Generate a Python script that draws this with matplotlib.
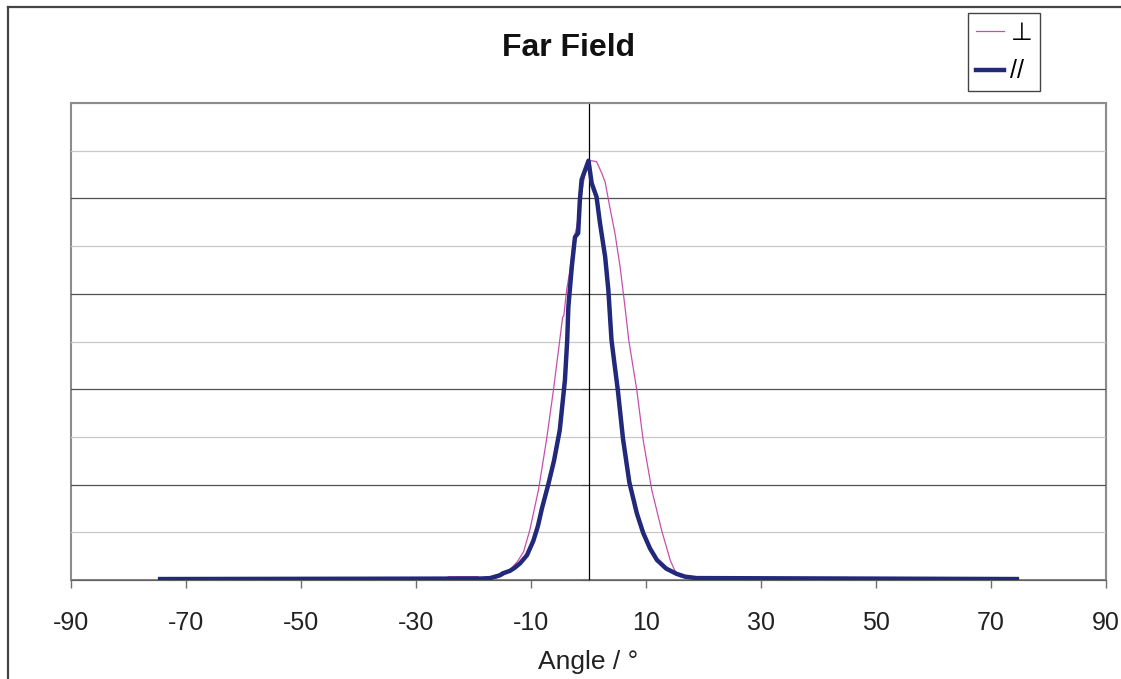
import matplotlib
matplotlib.use("Agg")
import matplotlib.pyplot as plt
from matplotlib.lines import Line2D

plt.rcParams["font.family"] = ["Liberation Sans", "DejaVu Sans"]
plt.rcParams["axes.unicode_minus"] = False

# far field intensity, perpendicular polarisation (thin magenta)
perp_angle = [-74.5, -30, -24.6, -24.4, -19.2, -19.0, -16.0, -14.8, -13.7, -12.4,
              -11.3, -10.2, -8.7, -7.3, -6.1, -5.0, -4.5, -4.3, -3.8, -3.3,
              -2.6, -2.05, -1.5, -0.9, -0.3, 0.5, 1.4, 2.3, 2.9, 3.7,
              4.6, 5.5, 6.35, 7.0, 8.4, 9.5, 11.0, 12.7, 14.2, 15.0,
              15.9, 17.6, 21.0, 21.1, 26.0, 26.2, 36.5, 37, 42, 42.5,
              74.5]
perp_value = [0.002, 0.002, 0.002, 0.007, 0.007, 0.003, 0.004, 0.010, 0.021, 0.038,
              0.059, 0.105, 0.189, 0.294, 0.398, 0.503, 0.551, 0.553, 0.608, 0.644,
              0.713, 0.740, 0.782, 0.832, 0.874, 0.879, 0.877, 0.853, 0.834, 0.782,
              0.727, 0.656, 0.572, 0.503, 0.398, 0.294, 0.189, 0.105, 0.042, 0.020,
              0.007, 0.003, 0.003, 0.007, 0.007, 0.003, 0.003, 0.004, 0.004, 0.003,
              0.002]

# parallel polarisation (thick navy)
par_angle = [-74.5, -18.9, -17.1, -15.4, -14.9, -13.7, -12.9, -11.9, -10.7, -9.6,
             -8.8, -8.1, -7.0, -6.0, -5.0, -4.1, -3.7, -3.5, -2.9, -2.35,
             -1.8, -1.5, -1.2, 0.0, 0.55, 1.4, 2.0, 2.9, 3.45, 4.0,
             4.55, 5.1, 6.0, 7.1, 8.4, 9.5, 10.7, 11.9, 13.5, 15.3,
             16.8, 18.8, 74.5]
par_value = [0.002, 0.003, 0.004, 0.010, 0.014, 0.019, 0.025, 0.035, 0.052, 0.082,
             0.113, 0.150, 0.200, 0.250, 0.314, 0.419, 0.503, 0.573, 0.657, 0.719,
             0.727, 0.797, 0.839, 0.879, 0.832, 0.803, 0.748, 0.677, 0.608, 0.503,
             0.450, 0.398, 0.296, 0.205, 0.140, 0.099, 0.066, 0.042, 0.024, 0.013,
             0.007, 0.004, 0.002]

x_ticks = list(range(-90, 91, 20))
y_major = [0.0, 0.2, 0.4, 0.6, 0.8]
y_minor = [0.1, 0.3, 0.5, 0.7, 0.9]

W, H = 1121, 679
fig = plt.figure(figsize=(W / 100, H / 100), dpi=100)
ax = fig.add_axes([71 / W, 1 - 580 / H, (1106 - 71) / W, (580 - 103) / H])

ax.plot(perp_angle, perp_value, color="#c64fae", lw=0.9, label="⊥", zorder=3)
ax.plot(par_angle, par_value, color="#22287a", lw=3.2, label="//", zorder=4,
        solid_joinstyle="round")

ax.set_xlim(-90, 90)
ax.set_ylim(0, 1.0)
ax.set_xticks(x_ticks)
ax.set_yticks(y_major)
ax.set_yticks(y_minor, minor=True)
ax.grid(axis="y", which="major", color="#505050", lw=0.9)
ax.grid(axis="y", which="minor", color="#c8c8c8", lw=0.9)
ax.set_axisbelow(True)

# vertical axis crosses at 0, plot area has grey border
ax.spines["left"].set_position(("data", 0))
ax.spines["left"].set_color("black")
ax.spines["left"].set_linewidth(0.9)
ax.spines["left"].set_zorder(2.5)
for s in ("top", "right"):
    ax.spines[s].set_color("#8c8c8c")
ax.spines["bottom"].set_color("#606060")
ax.patch.set_edgecolor("#8c8c8c")
ax.patch.set_linewidth(1.5)

ax.tick_params(axis="y", which="major", direction="out", length=6, color="#404040",
               labelleft=False)
ax.tick_params(axis="y", which="minor", length=0)
ax.tick_params(axis="x", direction="out", length=6, color="#707070", width=1,
               labelsize=18, labelcolor="#222222", pad=16)
ax.set_xlabel("Angle / °", fontsize=19, color="#222222", labelpad=11)

fig.text(568 / W, 1 - 48 / H, "Far Field", fontsize=23, fontweight="bold",
         ha="center", va="center", color="#111111")

leg = fig.legend(loc="upper left", bbox_to_anchor=(968 / W, 1 - 13 / H),
                 borderaxespad=0, fontsize=18, handlelength=1.15, handletextpad=0.25,
                 labelspacing=0.6, fancybox=False, framealpha=1, borderpad=0.3)
leg.get_frame().set_edgecolor("#444444")
leg.get_frame().set_linewidth(1.0)

# outer chart frame (partly cut by the image edge)
fx, fy = 7.5 / W, 1 - 6.5 / H
fig.add_artist(Line2D([fx, fx], [0, fy], color="#444444", lw=1.6,
                      transform=fig.transFigure))
fig.add_artist(Line2D([fx, 1], [fy, fy], color="#444444", lw=1.6,
                      transform=fig.transFigure))

fig.savefig("out.png", dpi=100)
